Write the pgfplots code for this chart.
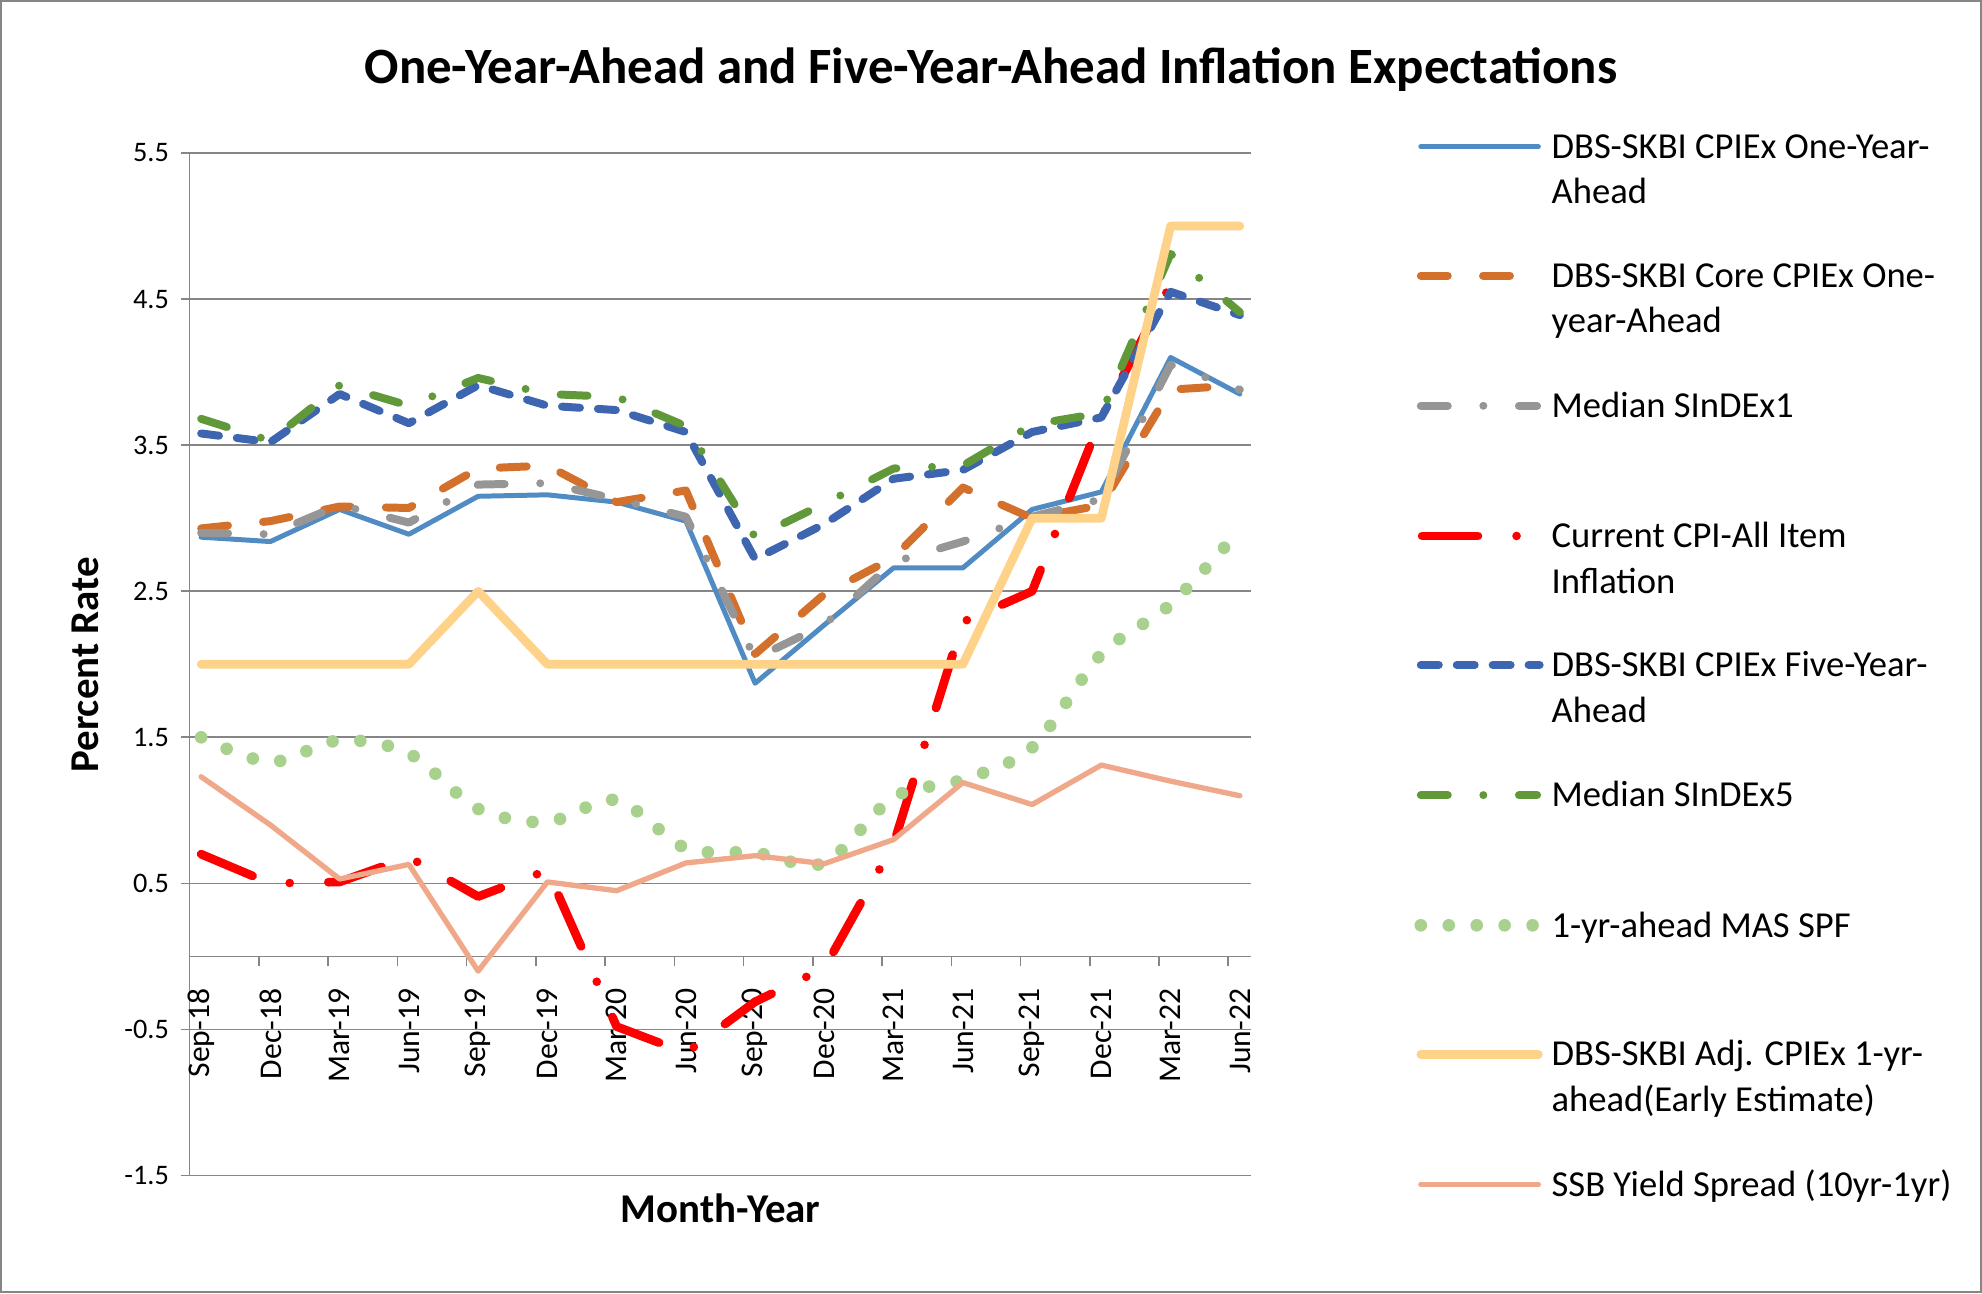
\documentclass[border=0pt]{standalone}
\usepackage{fontspec}
\setmainfont{Carlito}
\usepackage{pgfplots}
\pgfplotsset{compat=1.18}
\usepackage{pgfplotstable}

\definecolor{cBlue}{RGB}{80,140,195}
\definecolor{cOrange}{RGB}{210,112,44}
\definecolor{cGray}{RGB}{150,150,150}
\definecolor{cRed}{RGB}{255,0,0}
\definecolor{cDBlue}{RGB}{62,101,175}
\definecolor{cGreen}{RGB}{97,153,58}
\definecolor{cLGreen}{RGB}{169,209,142}
\definecolor{cYellow}{RGB}{255,210,138}
\definecolor{cSalmon}{RGB}{240,168,138}
\definecolor{cGrid}{RGB}{134,134,134}

\tikzset{
 sBlue/.style={cBlue, line width=1.5pt, line join=round, line cap=round},
 sOrange/.style={cOrange, line width=2.4pt, line cap=round, line join=round, dash pattern=on 8.1pt off 10.6pt},
 sGray/.style={cGray, line width=2.4pt, line cap=round, line join=round, dash pattern=on 8.1pt off 10.7pt on 0pt off 10.7pt},
 sRed/.style={cRed, line width=2.6pt, line cap=round, line join=round, dash pattern=on 16.8pt off 11.6pt on 0pt off 11.6pt},
 sDBlue/.style={cDBlue, line width=2.4pt, line cap=round, line join=round, dash pattern=on 5.4pt off 5.4pt},
 sGreen/.style={cGreen, line width=2.4pt, line cap=round, line join=round, dash pattern=on 8.1pt off 10.7pt on 0pt off 10.7pt},
 sSPF/.style={cLGreen, line width=3.8pt, line cap=round, dash pattern=on 0pt off 8.4pt},
 sYellow/.style={cYellow, line width=2.6pt, line cap=round, line join=round},
 sSalmon/.style={cSalmon, line width=1.6pt, line cap=round, line join=round},
}

\pgfplotstableread{
x  cpiex core sindexa cpi five sindexb spf adj ssb
0  2.87 2.93 2.90 0.70 3.58 3.68 1.50 2.0 1.23
3  2.84 2.98 2.89 0.50 3.52 3.53 1.33 2.0 0.90
6  3.06 3.08 3.09 0.51 3.85 3.91 1.48 2.0 0.53
9  2.89 3.07 2.97 0.68 3.65 3.77 1.39 2.0 0.63
12 3.15 3.34 3.23 0.41 3.91 3.96 1.01 2.5 -0.10
15 3.16 3.36 3.24 0.59 3.77 3.85 0.92 2.0 0.51
18 3.11 3.11 3.13 -0.48 3.74 3.83 1.07 2.0 0.45
21 2.98 3.19 3.01 -0.66 3.59 3.63 0.74 2.0 0.64
24 1.87 2.07 2.04 -0.31 2.72 2.87 0.71 2.0 0.69
27 2.27 2.48 2.27 -0.08 2.96 3.10 0.64 2.0 0.635
30 2.66 2.73 2.70 0.77 3.27 3.34 1.09 2.0 0.80
33 2.66 3.21 2.84 2.29 3.33 3.36 1.21 2.0 1.19
36 3.06 3.00 3.01 2.50 3.59 3.64 1.43 3.0 1.04
39 3.18 3.09 3.13 3.69 3.69 3.72 2.07 3.0 1.31
42 4.10 3.88 4.05 4.60 4.55 4.81 2.41 5.0 1.20
45 3.85 3.91 3.88 nan 4.39 4.41 2.92 5.0 1.10
}\data

\newcommand{\legfont}{\fontsize{11}{13.7}\selectfont}

\begin{document}
\begin{tikzpicture}
\useasboundingbox (0pt,0pt) rectangle (595.84pt,-388.74pt);
\begin{axis}[
  at={(57pt,-353.4pt)}, anchor=south west,
  scale only axis, width=319.2pt, height=307.42pt,
  xmin=-0.5, xmax=45.5, ymin=-1.5, ymax=5.5,
  axis x line=middle, axis y line=left,
  axis line style={-, cGrid, line width=0.5pt},
  ytick={-1.5,-0.5,0.5,1.5,2.5,3.5,4.5,5.5},
  yticklabels={-1.5,-0.5,0.5,1.5,2.5,3.5,4.5,5.5},
  ymajorgrids, major grid style={cGrid, line width=0.5pt},
  xtick={0,3,...,45},
  xticklabels={Sep-18,Dec-18,Mar-19,Jun-19,Sep-19,Dec-19,Mar-20,Jun-20,Sep-20,Dec-20,Mar-21,Jun-21,Sep-21,Dec-21,Mar-22,Jun-22},
  minor xtick={-0.5,2.5,...,44.5},
  major x tick style={draw=none},
  tick style={cGrid, line width=0.5pt},
  minor tick length=3pt, major tick length=2.7pt,
  tick align=outside,
  yticklabel style={font=\fontsize{8.5}{10}\selectfont, text=black},
  xticklabel style={font=\fontsize{9.5}{11}\selectfont, text=black, rotate=90, anchor=east},
  xticklabel shift=3.5pt,
  clip=false,
]
\addplot[sBlue] table[x=x,y=cpiex] {\data};
\addplot[sOrange] table[x=x,y=core] {\data};
\addplot[sGray] table[x=x,y=sindexa] {\data};
\addplot[sRed] table[x=x,y=cpi] {\data};
\addplot[sDBlue] table[x=x,y=five] {\data};
\addplot[sGreen] table[x=x,y=sindexb] {\data};
\addplot[sSPF, smooth] table[x=x,y=spf] {\data};
\addplot[sYellow] table[x=x,y=adj] {\data};
\addplot[sSalmon] table[x=x,y=ssb] {\data};
\end{axis}

\begin{scope}[x=0.38pt,y=-0.38pt]
\draw[cGrid, line width=0.6pt] (1,1) rectangle (1567,1022);
\node[font=\bfseries\fontsize{15.3}{18}\selectfont, anchor=base, inner sep=0pt] at (784,66) {One-Year-Ahead and Five-Year-Ahead Inflation Expectations};
\node[font=\bfseries\fontsize{12.3}{14}\selectfont, anchor=base, rotate=90, inner sep=0pt] at (78,526) {Percent Rate};
\node[font=\bfseries\fontsize{12.3}{14}\selectfont, anchor=base, inner sep=0pt] at (570,967) {Month-Year};
% legend
\draw[sBlue] (1124,116) -- (1217,116);
\draw[sOrange] (1124,218) -- (1218,218);
\draw[sGray] (1124,321) -- (1216,321);
\draw[sRed] (1125,424) -- (1205,424);
\draw[sDBlue] (1124,526) -- (1218,526);
\draw[sGreen] (1124,629) -- (1216,629);
\draw[sSPF] (1124,732) -- (1214,732);
\draw[sYellow] (1124,834) -- (1217,834);
\draw[sSalmon] (1124,937) -- (1217,937);
\begin{scope}[every node/.style={anchor=base west, inner sep=0pt, font=\legfont}]
\node at (1227,125.3) {DBS-SKBI CPIEx One-Year-};
\node at (1227,161.3) {Ahead};
\node at (1227,227.3) {DBS-SKBI Core CPIEx One-};
\node at (1227,263.3) {year-Ahead};
\node at (1227,330.3) {Median SInDEx1};
\node at (1227,433.3) {Current CPI-All Item};
\node at (1227,469.3) {Inflation};
\node at (1227,535.3) {DBS-SKBI CPIEx Five-Year-};
\node at (1227,571.3) {Ahead};
\node at (1227,638.3) {Median SInDEx5};
\node at (1227,741.3) {1-yr-ahead MAS SPF};
\node at (1227,843.3) {DBS-SKBI Adj. CPIEx 1-yr-};
\node at (1227,879.3) {ahead(Early Estimate)};
\node at (1227,946.3) {SSB Yield Spread (10yr-1yr)};
\end{scope}
\end{scope}
\end{tikzpicture}
\end{document}
